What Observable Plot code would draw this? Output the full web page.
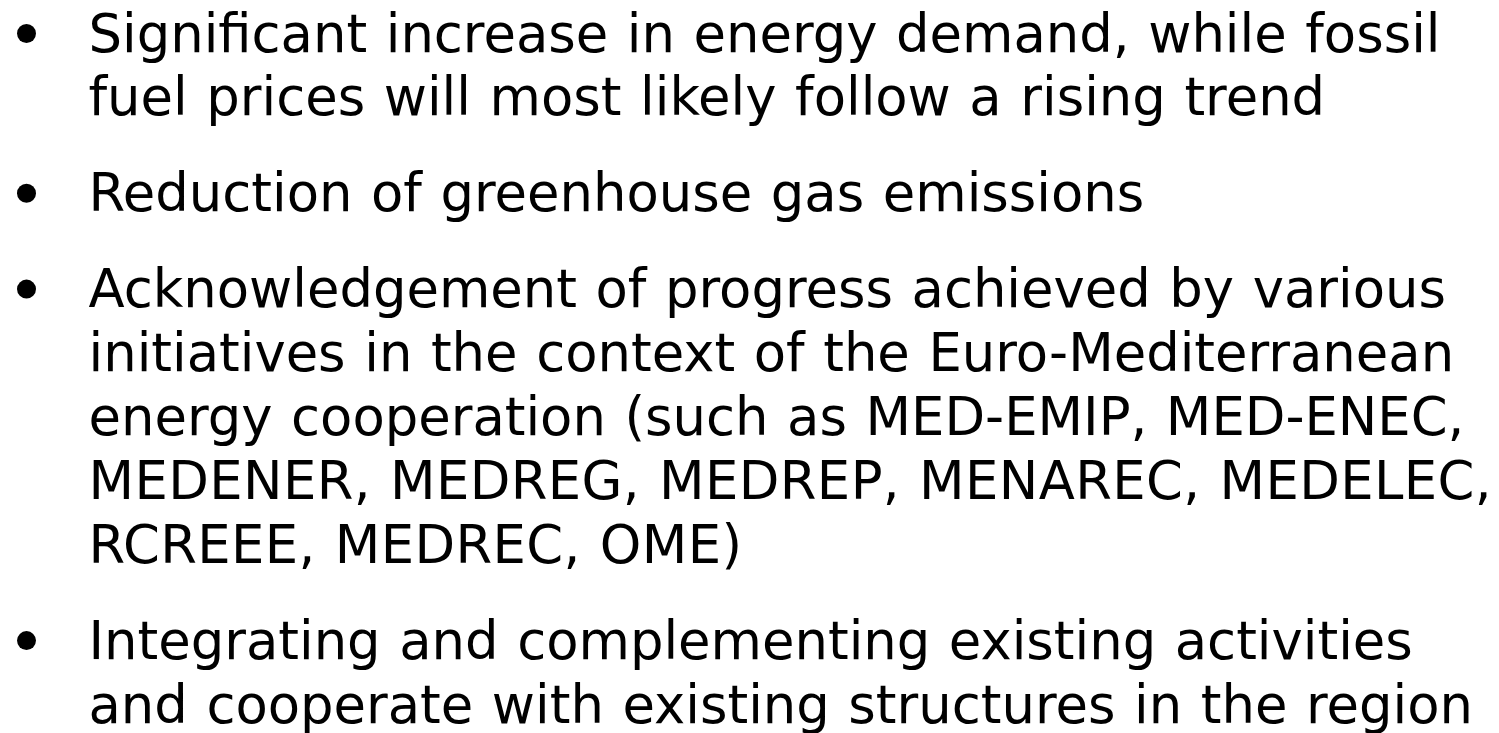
<!DOCTYPE html>
<html>
<head>
<meta charset="utf-8">
<script src="https://cdn.jsdelivr.net/npm/d3@7"></script>
<script src="https://cdn.jsdelivr.net/npm/@observablehq/plot@0.6"></script>
<style>
  html, body { margin: 0; padding: 0; background: #ffffff; overflow: hidden; }
  #chart svg { display: block; background: linear-gradient(to bottom, #ffffff 0, #ffffff 457px, #f8f8f8 457px, #f8f8f8 100%); }
</style>
</head>
<body>
<div id="chart"></div>
<script>
// Bullet paragraphs, each as its wrapped lines
const bullet1 = [
  "Significant increase in energy demand, while fossil",
  "fuel prices will most likely follow a rising trend"
];
const bullet2 = [
  "Reduction of greenhouse gas emissions"
];
const bullet3 = [
  "Acknowledgement of progress achieved by various",
  "initiatives in the context of the Euro-Mediterranean",
  "energy cooperation (such as MED-EMIP, MED-ENEC,",
  "MEDENER, MEDREG, MEDREP, MENAREC, MEDELEC,",
  "RCREEE, MEDREC, OME)"
];
const bullet4 = [
  "Integrating and complementing existing activities",
  "and cooperate with existing structures in the region"
];
const paragraphs = [bullet1, bullet2, bullet3, bullet4];

// Build a row table: line slot (in line units) with a 1.5-line gap between paragraphs
const paragraphGap = 1.5;
const rows = [];
let slot = 0;
paragraphs.forEach((lines, p) => {
  if (p > 0) slot += paragraphGap;
  lines.forEach((text, i) => {
    rows.push({paragraph: p, line: i, slot, text});
    if (i < lines.length - 1) slot += 1;
  });
});
const firstLines = rows.filter(d => d.line === 0);

const fontSize = 52.8;
const chart = Plot.plot({
  width: 1499,
  height: 733,
  margin: 0,
  style: {fontFamily: "'DejaVu Sans', Verdana, sans-serif", background: "transparent", color: "#000"},
  y: {domain: [0, slot], range: [51, 722], axis: null},
  x: {axis: null},
  marks: [
    Plot.dot(firstLines, {
      y: "slot",
      frameAnchor: "left",
      dx: 26,
      dy: -18,
      r: 9.5,
      fill: "#000",
      stroke: null
    }),
    Plot.text(rows, {
      y: "slot",
      text: "text",
      frameAnchor: "left",
      textAnchor: "start",
      lineAnchor: "bottom",
      dx: 88,
      fontSize: fontSize,
      fill: "#000"
    })
  ]
});
// Verdana-like spacing: slightly wider word gaps, and wider capitals
chart.querySelectorAll("text").forEach(t => {
  t.style.wordSpacing = "1.8px";
  const s = t.textContent;
  const letters = s.replace(/[^A-Za-z]/g, "");
  const upper = s.replace(/[^A-Z]/g, "").length;
  if (letters.length && upper / letters.length > 0.5) t.style.letterSpacing = "0.4px";
});
document.getElementById("chart").append(chart);
</script>
</body>
</html>
